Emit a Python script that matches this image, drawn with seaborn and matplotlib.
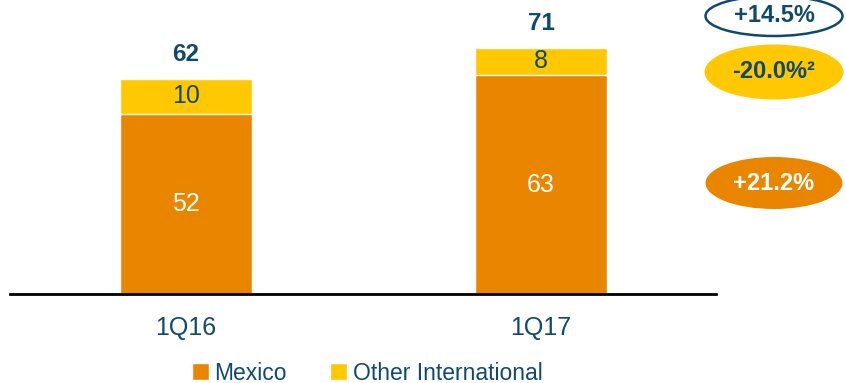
import numpy as np
import pandas as pd
import matplotlib
matplotlib.use("Agg")
import matplotlib.pyplot as plt
from matplotlib.patches import Ellipse, Patch
import seaborn as sns

# chart data
quarters = ["1Q16", "1Q17"]
mexico = [52, 63]
other_intl = [10, 8]
growth_labels = ["+14.5%", "-20.0%²", "+21.2%"]

ORANGE = "#EA8500"
YELLOW = "#FFC800"
NAVY = "#0F4A6E"

sns.set_theme(style="white")
plt.rcParams["font.family"] = ["Liberation Sans", "DejaVu Sans"]

df = pd.DataFrame({"quarter": quarters, "Mexico": mexico, "Other": other_intl})
df["total"] = df["Mexico"] + df["Other"]

fig = plt.figure(figsize=(8.46, 3.83), dpi=100)
ax = fig.add_axes([10 / 846, 89 / 383, 706 / 846, 294 / 383])

# stacked bars: total (yellow) then Mexico (orange) over it
sns.barplot(data=df, x="quarter", y="total", color=YELLOW, saturation=1,
            width=0.37, ax=ax)
sns.barplot(data=df, x="quarter", y="Mexico", color=ORANGE, saturation=1,
            width=0.37, ax=ax)

ax.set_xlim(-0.496, 1.493)
ax.set_ylim(0, 84.7)
for side in ["left", "right", "top"]:
    ax.spines[side].set_visible(False)
ax.spines["bottom"].set_color("black")
ax.spines["bottom"].set_linewidth(2)
ax.set_yticks([])
ax.set_xlabel("")
ax.set_ylabel("")
ax.tick_params(axis="x", length=0, pad=16, labelsize=18, labelcolor=NAVY)

for i, row in df.iterrows():
    ax.text(i, row["Mexico"] / 2, str(row["Mexico"]), ha="center", va="center",
            color="white", fontsize=18)
    ax.text(i, row["Mexico"] + row["Other"] / 2, str(row["Other"]), ha="center",
            va="center", color=NAVY, fontsize=18)
    ax.text(i, row["total"] + 7, str(row["total"]), ha="center", va="center",
            color=NAVY, fontsize=17.5, fontweight="bold")

# growth ellipses on the right
ell_specs = [
    (774, 16, 137, 40, "none", NAVY, NAVY),
    (774, 72, 139, 55, YELLOW, "none", NAVY),
    (774, 183, 137, 52, ORANGE, "none", "white"),
]
for (cx, cy, w, h, fc, ec, tc), lab in zip(ell_specs, growth_labels):
    e = Ellipse((cx / 846, 1 - cy / 383), w / 846, h / 383, facecolor=fc,
                edgecolor=ec, linewidth=1.8, transform=fig.transFigure)
    fig.patches.append(e)
    fig.text(cx / 846, 1 - cy / 383, lab, ha="center", va="center",
             color=tc, fontsize=17, fontweight="bold")

handles = [Patch(facecolor=ORANGE, label="Mexico"),
           Patch(facecolor=YELLOW, label="Other International")]
fig.legend(handles=handles, loc="center", bbox_to_anchor=(0.434, 0.026),
           ncol=2, frameon=False, handlelength=0.72, handleheight=0.72,
           handletextpad=0.25, columnspacing=1.9,
           prop={"size": 16.5}, labelcolor=NAVY)

fig.savefig("out.png", dpi=100)
